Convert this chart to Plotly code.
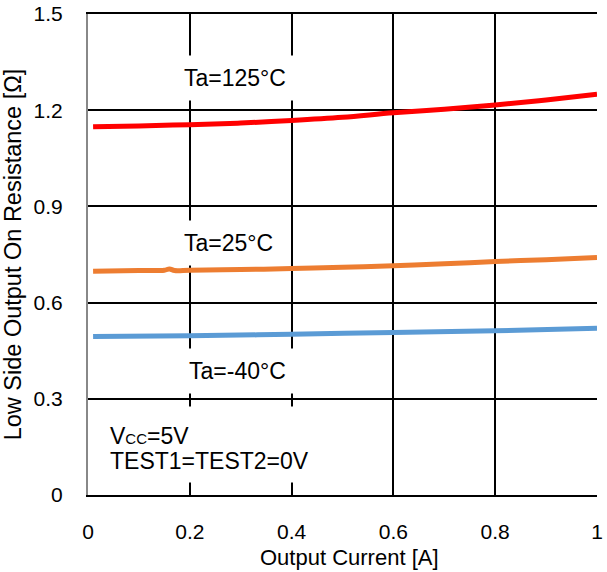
import plotly.graph_objects as go

x_125 = [0.01, 0.1, 0.2, 0.3, 0.4, 0.5, 0.6, 0.7, 0.8, 0.9, 1.0]
r_125 = [1.148, 1.151, 1.155, 1.160, 1.168, 1.178, 1.192, 1.203, 1.216, 1.232, 1.250]

x_25 = [0.01, 0.1, 0.15, 0.16, 0.17, 0.2, 0.3, 0.4, 0.5, 0.6, 0.7, 0.8, 0.9, 1.0]
r_25 = [0.698, 0.700, 0.701, 0.705, 0.700, 0.701, 0.703, 0.706, 0.710, 0.715, 0.721, 0.728, 0.734, 0.741]

x_m40 = [0.01, 0.2, 0.4, 0.6, 0.8, 1.0]
r_m40 = [0.494, 0.497, 0.501, 0.507, 0.512, 0.520]

x_ticks = [0, 0.2, 0.4, 0.6, 0.8, 1.0]
x_ticktext = ["0", "0.2", "0.4", "0.6", "0.8", "1"]
y_ticks = [0, 0.3, 0.6, 0.9, 1.2, 1.5]
y_ticktext = ["0", "0.3", "0.6", "0.9", "1.2", "1.5"]

FAM = "Liberation Sans, Arial, sans-serif"

fig = go.Figure()
fig.add_trace(go.Scatter(x=x_125, y=r_125, mode="lines", line=dict(color="#ff0000", width=5, shape="spline"), name="Ta=125°C"))
fig.add_trace(go.Scatter(x=x_25, y=r_25, mode="lines", line=dict(color="#ed7d31", width=5, shape="spline"), name="Ta=25°C"))
fig.add_trace(go.Scatter(x=x_m40, y=r_m40, mode="lines", line=dict(color="#5b9bd5", width=5, shape="spline"), name="Ta=-40°C"))

def ann(text, x, y, **kw):
    fig.add_annotation(text=text, x=x, y=y, xref="x", yref="y", showarrow=False,
                       bgcolor="white", font=dict(size=23, family=FAM, color="black"), **kw)

ann("Ta=125°C", 0.289, 1.30, borderpad=9)
ann("Ta=25°C", 0.277, 0.786, borderpad=9)
ann("Ta=-40°C", 0.293, 0.386, borderpad=9)

# white panel behind the condition text
fig.add_shape(type="rect", xref="x", yref="y", x0=0.0, x1=0.5, y0=0.039, y1=0.276,
              fillcolor="white", line=dict(width=0), layer="between")
fig.add_annotation(text="V<span style='font-size:15px'>CC</span>=5V", x=0.04, y=0.185,
                   xref="x", yref="y", xanchor="left", yanchor="middle", showarrow=False,
                   font=dict(size=23, family=FAM, color="black"))
fig.add_annotation(text="TEST1=TEST2=0V", x=0.04, y=0.107,
                   xref="x", yref="y", xanchor="left", yanchor="middle", showarrow=False,
                   font=dict(size=23, family=FAM, color="black"))

# x-axis title
fig.add_annotation(text="Output Current [A]", xref="paper", yref="paper", x=0.514, y=-0.129,
                   xanchor="center", yanchor="middle", showarrow=False,
                   font=dict(size=22, family=FAM, color="black"))

fig.update_layout(
    width=607, height=572,
    margin=dict(l=88, r=10, t=14, b=77),
    paper_bgcolor="white", plot_bgcolor="white",
    showlegend=False,
    font=dict(size=21, family=FAM, color="black"),
)
fig.update_xaxes(range=[0, 1], tickvals=x_ticks, ticktext=x_ticktext,
                 showgrid=True, gridcolor="black", gridwidth=1.5, zeroline=False,
                 showline=True, mirror=True, linecolor="black", linewidth=1.5, automargin=False,
                 ticks="", ticklabelstandoff=17, tickfont=dict(size=21),
                 ticklabeloverflow="allow")
fig.update_yaxes(range=[0, 1.5], tickvals=y_ticks, ticktext=y_ticktext,
                 showgrid=True, gridcolor="black", gridwidth=1.5, zeroline=False,
                 showline=True, linecolor="#888888", linewidth=2, automargin=False,
                 ticks="", ticklabelstandoff=19, tickfont=dict(size=21),
                 ticklabeloverflow="allow",
                 title=dict(text="Low Side Output On Resistance [Ω]", font=dict(size=23.5, family=FAM), standoff=11))

# remove the browser's default 8px page margin so the figure fills the window exactly
fig.write_html("out.html", config={"displayModeBar": False},
               post_script="document.body.style.margin='0';document.documentElement.style.overflow='hidden';")
